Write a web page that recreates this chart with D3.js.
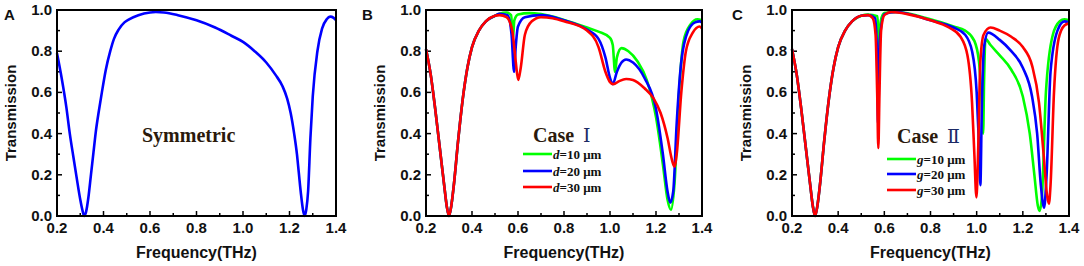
<!DOCTYPE html>
<html lang="en">
<head>
<meta charset="utf-8">
<title>Transmission spectra</title>
<script src="https://d3js.org/d3.v7.min.js"></script>
<style>
  body { margin: 0; background: #fff; }
  .tick-label { font-family: Arial, "Liberation Sans", sans-serif; font-weight: bold; font-size: 15px; fill: #111; }
  .axis-title { font-family: Arial, "Liberation Sans", sans-serif; font-weight: bold; fill: #111; }
  .panel-letter { font-family: Arial, "Liberation Sans", sans-serif; font-weight: bold; font-size: 15px; fill: #111; }
  .note { font-family: "Times New Roman", "Liberation Serif", serif; font-weight: bold; font-size: 20px; fill: #2b1a0c; }
  .numeral { font-family: "DejaVu Serif", "Noto Sans CJK SC", serif; font-weight: normal; font-size: 19px; fill: #1c2a66; }
  .leg { font-family: "Times New Roman", "Liberation Serif", serif; font-weight: bold; font-size: 13px; fill: #111; }
</style>
</head>
<body>
<script>
// ---- data: [frequency THz, transmission] ----
const freqTicks = [0.2, 0.4, 0.6, 0.8, 1.0, 1.2, 1.4];
const transTicks = [0.0, 0.2, 0.4, 0.6, 0.8, 1.0];

const symmetric = [[0.20,0.79],[0.22,0.67],[0.24,0.53],[0.255,0.40],[0.27,0.29],[0.284,0.19],[0.30,0.08],[0.31,0.025],[0.317,0.0],[0.325,0.02],[0.335,0.09],[0.346,0.2],[0.357,0.31],[0.367,0.41],[0.38,0.51],[0.393,0.6],[0.41,0.71],[0.429,0.8],[0.445,0.86],[0.465,0.905],[0.49,0.94],[0.51,0.955],[0.55,0.975],[0.6,0.988],[0.625,0.99],[0.66,0.988],[0.72,0.975],[0.8,0.95],[0.88,0.915],[0.95,0.875],[1.0,0.845],[1.05,0.80],[1.10,0.745],[1.14,0.685],[1.17,0.63],[1.19,0.57],[1.205,0.50],[1.22,0.40],[1.232,0.30],[1.24,0.21],[1.25,0.1],[1.258,0.03],[1.265,0.0],[1.272,0.03],[1.28,0.12],[1.29,0.38],[1.30,0.58],[1.32,0.80],[1.34,0.91],[1.36,0.955],[1.375,0.968],[1.39,0.962],[1.40,0.95]];

// shared low-frequency part (curves overlap there)
const lowBand = [[0.2,0.81],[0.22,0.69],[0.24,0.52],[0.26,0.33],[0.28,0.14],[0.29,0.05],[0.30,0.0],[0.31,0.05],[0.32,0.14],[0.34,0.37],[0.36,0.57],[0.38,0.72],[0.40,0.82],[0.43,0.9],[0.46,0.945],[0.50,0.972]];

const caseI_d10 = [[0.52,0.982],[0.55,0.988],[0.57,0.975],[0.578,0.86],[0.584,0.95],[0.6,0.978],[0.65,0.985],[0.7,0.98],[0.8,0.952],[0.9,0.915],[0.95,0.895],[1.0,0.865],[1.012,0.83],[1.022,0.70],[1.03,0.77],[1.05,0.815],[1.08,0.80],[1.12,0.75],[1.16,0.66],[1.2,0.48],[1.23,0.25],[1.25,0.08],[1.265,0.03],[1.28,0.15],[1.30,0.6],[1.32,0.85],[1.35,0.93],[1.38,0.955],[1.40,0.95]];
const caseI_d20 = [[0.52,0.982],[0.555,0.975],[0.572,0.88],[0.583,0.70],[0.59,0.82],[0.6,0.92],[0.63,0.965],[0.7,0.975],[0.8,0.95],[0.9,0.905],[0.95,0.86],[0.98,0.77],[1.0,0.67],[1.012,0.64],[1.03,0.70],[1.05,0.745],[1.07,0.76],[1.1,0.745],[1.15,0.67],[1.2,0.52],[1.23,0.3],[1.25,0.12],[1.262,0.065],[1.275,0.12],[1.29,0.45],[1.31,0.75],[1.34,0.9],[1.37,0.94],[1.39,0.945],[1.40,0.94]];
const caseI_d30 = [[0.52,0.975],[0.55,0.965],[0.575,0.9],[0.59,0.75],[0.601,0.66],[0.612,0.72],[0.63,0.88],[0.66,0.945],[0.7,0.965],[0.75,0.96],[0.8,0.945],[0.9,0.9],[0.95,0.82],[0.98,0.70],[1.0,0.65],[1.015,0.64],[1.04,0.655],[1.07,0.665],[1.1,0.66],[1.15,0.62],[1.19,0.57],[1.22,0.5],[1.25,0.38],[1.27,0.27],[1.28,0.24],[1.29,0.3],[1.31,0.6],[1.33,0.8],[1.36,0.89],[1.39,0.92],[1.40,0.91]];

const caseII_g10 = [[0.53,0.978],[0.57,0.97],[0.578,0.82],[0.585,0.95],[0.6,0.985],[0.65,0.99],[0.8,0.955],[0.9,0.92],[0.95,0.9],[0.99,0.85],[1.01,0.75],[1.022,0.55],[1.028,0.4],[1.032,0.65],[1.038,0.86],[1.06,0.83],[1.1,0.78],[1.15,0.71],[1.2,0.58],[1.23,0.4],[1.25,0.2],[1.265,0.05],[1.273,0.025],[1.283,0.1],[1.3,0.6],[1.33,0.88],[1.36,0.945],[1.38,0.955],[1.40,0.95]];
const caseII_g20 = [[0.53,0.975],[0.56,0.96],[0.568,0.8],[0.573,0.45],[0.58,0.85],[0.6,0.98],[0.65,0.99],[0.8,0.95],[0.9,0.915],[0.95,0.88],[0.98,0.8],[1.0,0.6],[1.01,0.35],[1.016,0.15],[1.022,0.5],[1.032,0.82],[1.05,0.89],[1.1,0.855],[1.15,0.8],[1.2,0.72],[1.24,0.58],[1.262,0.4],[1.278,0.15],[1.292,0.04],[1.303,0.2],[1.32,0.7],[1.35,0.9],[1.38,0.945],[1.40,0.94]];
const caseII_g30 = [[0.53,0.975],[0.55,0.96],[0.562,0.88],[0.569,0.6],[0.574,0.33],[0.579,0.6],[0.586,0.9],[0.6,0.975],[0.63,0.99],[0.7,0.98],[0.8,0.95],[0.88,0.915],[0.93,0.87],[0.96,0.78],[0.98,0.55],[0.99,0.3],[0.999,0.09],[1.006,0.3],[1.016,0.75],[1.03,0.88],[1.06,0.915],[1.1,0.9],[1.15,0.87],[1.2,0.82],[1.24,0.73],[1.27,0.55],[1.29,0.3],[1.305,0.1],[1.313,0.06],[1.32,0.15],[1.335,0.6],[1.355,0.86],[1.38,0.925],[1.40,0.935]];

const seriesColors = ["#00ff00", "#0000ff", "#ff0000"];
const caseILabels = ["10 μm", "20 μm", "30 μm"];
const caseIILabels = ["10 μm", "20 μm", "30 μm"];

// ---- layout ----
const W = 1084, H = 266;
const plotTop = 10, plotBottom = 216;

const svg = d3.select("body").append("svg").attr("width", W).attr("height", H);

function drawPanel(cfg) {
  const x = d3.scaleLinear().domain([0.2, 1.4]).range([cfg.left, cfg.right]);
  const y = d3.scaleLinear().domain([0, 1]).range([plotBottom, plotTop]);
  const g = svg.append("g");

  // minor + major ticks (inward)
  const xMinor = d3.range(3, 14).map(v => v / 10);
  const yMinor = d3.range(1, 10).map(v => v / 10);
  const isMajor = (arr, d) => arr.some(t => Math.abs(t - d) < 1e-6);
  g.selectAll(".xm").data(xMinor).join("line")
    .attr("x1", d => x(d)).attr("x2", d => x(d))
    .attr("y1", plotBottom).attr("y2", d => plotBottom - (isMajor(freqTicks, d) ? 5 : 3))
    .attr("stroke", "#000").attr("stroke-width", 1.5);
  g.selectAll(".ym").data(yMinor).join("line")
    .attr("y1", d => y(d)).attr("y2", d => y(d))
    .attr("x1", cfg.left).attr("x2", d => cfg.left + (isMajor(transTicks, d) ? 5 : 3))
    .attr("stroke", "#000").attr("stroke-width", 1.5);

  // tick labels
  g.selectAll(".xl").data(freqTicks).join("text")
    .attr("class", "tick-label").attr("x", d => x(d)).attr("y", plotBottom + 17)
    .attr("text-anchor", "middle").text(d => d.toFixed(1));
  g.selectAll(".yl").data(transTicks).join("text")
    .attr("class", "tick-label").attr("x", cfg.left - 5).attr("y", d => y(d) + 5)
    .attr("text-anchor", "end").text(d => d.toFixed(1));

  // axis titles
  g.append("text").attr("class", "axis-title").style("font-size", "16px")
    .attr("x", (cfg.left + cfg.right) / 2).attr("y", 258)
    .attr("text-anchor", "middle").text("Frequency(THz)");
  g.append("text").attr("class", "axis-title").style("font-size", "15px")
    .attr("transform", `translate(${cfg.left - 41},${(plotTop + plotBottom) / 2}) rotate(-90)`)
    .attr("text-anchor", "middle").text("Transmission");

  g.append("text").attr("class", "panel-letter")
    .attr("x", cfg.letterX).attr("y", 20).text(cfg.letter);

  // curves
  const line = d3.line().x(d => x(d[0])).y(d => y(d[1])).curve(d3.curveMonotoneX);
  cfg.series.forEach((s, i) => {
    g.append("path").datum(s)
      .attr("fill", "none").attr("stroke", cfg.colors[i])
      .attr("stroke-width", 2.6).attr("stroke-linejoin", "round")
      .attr("d", line);
  });

  // frame
  g.append("rect").attr("x", cfg.left).attr("y", plotTop)
    .attr("width", cfg.right - cfg.left).attr("height", plotBottom - plotTop)
    .attr("fill", "none").attr("stroke", "#000").attr("stroke-width", 2);

  return { g, x, y };
}

// A
const pA = drawPanel({ left: 57, right: 336, letter: "A", letterX: 4,
  series: [symmetric], colors: ["#0000ff"] });
pA.g.append("text").attr("class", "note").attr("x", 142).attr("y", 142).text("Symmetric");

// B
const pB = drawPanel({ left: 426, right: 702, letter: "B", letterX: 362,
  series: [lowBand.concat(caseI_d10), lowBand.concat(caseI_d20), lowBand.concat(caseI_d30)],
  colors: seriesColors });
// C
const pC = drawPanel({ left: 792, right: 1069, letter: "C", letterX: 732,
  series: [lowBand.concat(caseII_g10), lowBand.concat(caseII_g20), lowBand.concat(caseII_g30)],
  colors: seriesColors });

function legend(p, x0, titleY, rows, sym, labels, numeral) {
  const t = p.g.append("text").attr("class", "note").attr("x", x0 + 10).attr("y", titleY);
  t.append("tspan").text("Case ");
  t.append("tspan").attr("class", "numeral").attr("dx", 4).text(numeral);
  labels.forEach((lab, i) => {
    p.g.append("line").attr("x1", x0).attr("x2", x0 + 29)
      .attr("y1", rows[i]).attr("y2", rows[i])
      .attr("stroke", seriesColors[i]).attr("stroke-width", 2.6);
    const tx = p.g.append("text").attr("class", "leg").attr("x", x0 + 30).attr("y", rows[i] + 4.5);
    tx.append("tspan").style("font-style", "italic").text(sym);
    tx.append("tspan").text("=" + lab);
  });
}
legend(pB, 523, 142, [154, 171, 187], "d", caseILabels, "Ⅰ");
legend(pC, 887, 143, [159, 174, 190], "g", caseIILabels, "Ⅱ");
</script>
</body>
</html>
